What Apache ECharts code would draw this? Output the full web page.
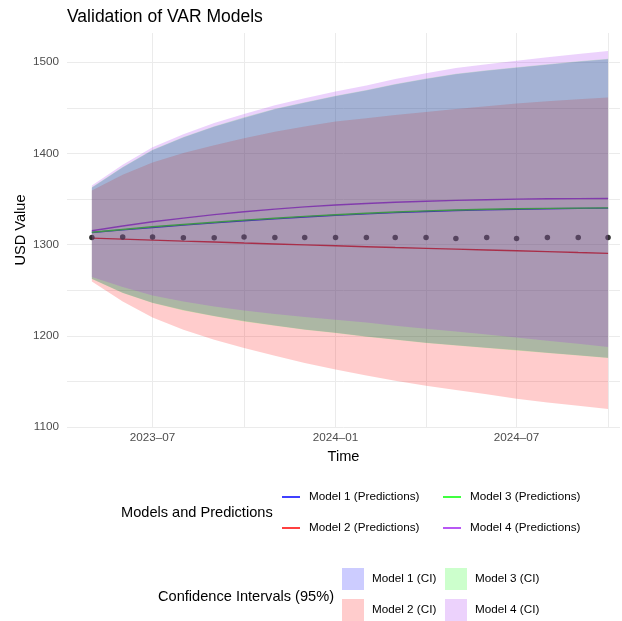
<!DOCTYPE html>
<html>
<head>
<meta charset="utf-8">
<script src="https://cdn.jsdelivr.net/npm/echarts@6/dist/echarts.min.js"></script>
<style>
  html, body { margin: 0; padding: 0; background: #fff; }
  #main { width: 622px; height: 621px; }
</style>
</head>
<body>
<div id="main"></div>
<script>
  // monthly dates of the validation window
  var dates = ['2023-05-01', '2023-06-01', '2023-07-01', '2023-08-01', '2023-09-01', '2023-10-01',
    '2023-11-01', '2023-12-01', '2024-01-01', '2024-02-01', '2024-03-01', '2024-04-01',
    '2024-05-01', '2024-06-01', '2024-07-01', '2024-08-01', '2024-09-01', '2024-10-01'];

  // actual values (black dots)
  var actual = [1307.8, 1308.2, 1308.2, 1307.5, 1307.5, 1308.2, 1307.8, 1307.8, 1307.8,
    1307.8, 1307.8, 1307.8, 1306.8, 1307.8, 1306.8, 1307.8, 1307.8, 1307.8];

  // predictions
  var pred1 = [1313.3, 1316.1, 1318.8, 1321.4, 1323.8, 1326.1, 1328.2, 1330.2, 1332.1,
    1333.7, 1335.1, 1336.3, 1337.3, 1338.1, 1338.8, 1339.3, 1339.7, 1340.0];
  var pred2 = [1307.1, 1306.0, 1304.9, 1303.8, 1302.8, 1301.7, 1300.7, 1299.7, 1298.7,
    1297.7, 1296.8, 1295.9, 1295.0, 1294.1, 1293.2, 1292.3, 1291.3, 1290.4];
  var pred3 = [1313.6, 1316.6, 1319.5, 1322.1, 1324.5, 1326.8, 1328.9, 1330.9, 1332.8,
    1334.4, 1335.8, 1337.0, 1338.0, 1338.7, 1339.3, 1339.7, 1340.0, 1340.3];
  var pred4 = [1315.2, 1320.4, 1325.0, 1329.0, 1332.8, 1336.0, 1338.9, 1341.4, 1343.4,
    1345.0, 1346.4, 1347.6, 1348.5, 1349.2, 1349.8, 1350.2, 1350.4, 1350.5];

  // 95% confidence bounds
  var lower1 = [1262.6, 1247.2, 1236.3, 1228.2, 1221.7, 1216.1, 1211.4, 1207.0, 1203.4,
    1199.3, 1196.0, 1192.4, 1189.7, 1187.0, 1184.3, 1181.5, 1178.7, 1176.0];
  var upper1 = [1362.4, 1384.6, 1403.4, 1417.3, 1429.1, 1438.9, 1448.3, 1455.6, 1462.7,
    1469.0, 1475.6, 1481.6, 1486.7, 1490.5, 1493.9, 1497.1, 1500.4, 1503.3];
  var lower2 = [1259.6, 1237.6, 1220.1, 1206.6, 1195.7, 1186.6, 1178.1, 1170.2, 1163.0,
    1156.6, 1150.8, 1145.3, 1140.7, 1135.8, 1131.0, 1127.0, 1123.3, 1119.7];
  var upper2 = [1359.3, 1376.5, 1390.0, 1400.3, 1409.0, 1416.7, 1423.6, 1429.4, 1434.9,
    1438.4, 1442.0, 1445.4, 1448.6, 1451.7, 1454.6, 1457.1, 1459.3, 1461.2];
  var lower3 = [1262.2, 1246.8, 1235.9, 1227.8, 1221.3, 1215.7, 1211.0, 1206.6, 1203.0,
    1198.9, 1195.6, 1192.0, 1189.3, 1186.6, 1183.9, 1181.1, 1178.3, 1175.6];
  var upper3 = [1363.0, 1385.2, 1404.0, 1417.9, 1429.7, 1439.5, 1448.9, 1456.2, 1463.3,
    1469.6, 1476.2, 1482.2, 1487.3, 1491.1, 1494.5, 1497.7, 1501.0, 1503.9];
  var lower4 = [1264.4, 1253.4, 1244.2, 1237.6, 1232.2, 1227.8, 1223.8, 1220.6, 1217.6,
    1214.5, 1211.0, 1207.7, 1204.8, 1201.5, 1198.2, 1194.6, 1191.3, 1187.7];
  var upper4 = [1364.8, 1387.5, 1406.8, 1421.1, 1433.2, 1443.3, 1452.9, 1460.5, 1467.8,
    1474.5, 1481.5, 1488.0, 1493.5, 1497.8, 1501.6, 1505.3, 1509.0, 1512.4];

  var models = ['Model 1', 'Model 2', 'Model 3', 'Model 4'];
  var preds = [pred1, pred2, pred3, pred4];
  var lowers = [lower1, lower2, lower3, lower4];
  var uppers = [upper1, upper2, upper3, upper4];
  var lineColors = ['#0000FF', '#FF0000', '#00FF00', '#A020F0'];
  var bandColors = ['rgba(0,0,255,0.2)', 'rgba(255,0,0,0.2)', 'rgba(0,255,0,0.2)', 'rgba(160,32,240,0.2)'];

  var font = 'Liberation Sans, Arial, Helvetica, sans-serif';

  function pairs(ys) {
    return dates.map(function (d, i) { return [d, ys[i]]; });
  }

  var series = [];
  series.push({
    name: 'Actual',
    type: 'scatter',
    data: pairs(actual),
    symbolSize: 5.5,
    itemStyle: {color: '#000'},
    z: 1
  });
  preds.forEach(function (p, k) {
    series.push({
      name: models[k] + ' (Predictions)',
      type: 'line',
      data: pairs(p),
      symbol: 'none',
      color: lineColors[k],
      itemStyle: {color: lineColors[k]},
      lineStyle: {width: 1.4, color: lineColors[k]},
      z: 1
    });
  });
  // ribbons: invisible lower line + stacked width
  lowers.forEach(function (lo, k) {
    var up = uppers[k];
    series.push({
      name: models[k] + ' low',
      type: 'line',
      stack: 'ci' + k,
      data: pairs(lo),
      symbol: 'none',
      lineStyle: {opacity: 0},
      silent: true,
      z: 2
    });
    series.push({
      name: models[k] + ' (CI)',
      type: 'line',
      stack: 'ci' + k,
      data: pairs(lo.map(function (v, i) { return up[i] - v; })),
      symbol: 'none',
      color: bandColors[k],
      itemStyle: {color: bandColors[k]},
      lineStyle: {opacity: 0, width: 0},
      areaStyle: {color: bandColors[k], opacity: 1},
      silent: true,
      z: 2
    });
  });

  var lineLegend = {
    orient: 'vertical', top: 491, padding: 0, icon: 'rect',
    itemWidth: 18, itemHeight: 1.5, itemGap: 19, selectedMode: false,
    textStyle: {fontFamily: font, fontSize: 11.7, color: '#000', padding: [0, 0, 0, 4]}
  };
  var ciLegend = {
    orient: 'vertical', top: 568, padding: 0, icon: 'rect',
    itemWidth: 22, itemHeight: 22, itemGap: 9, selectedMode: false,
    textStyle: {fontFamily: font, fontSize: 11.7, color: '#000', padding: [0, 0, 0, 3]}
  };

  var chart = echarts.init(document.getElementById('main'));
  chart.setOption({
    animation: false,
    title: [
      {text: 'Validation of VAR Models', left: 67, top: 8, padding: 0,
        textStyle: {fontFamily: font, fontSize: 17.5, fontWeight: 'normal', color: '#000'}},
      {text: 'Models and Predictions', left: 121, top: 505, padding: 0,
        textStyle: {fontFamily: font, fontSize: 14.6, fontWeight: 'normal', color: '#000'}},
      {text: 'Confidence Intervals (95%)', left: 158, top: 589, padding: 0,
        textStyle: {fontFamily: font, fontSize: 14.6, fontWeight: 'normal', color: '#000'}}
    ],
    legend: [
      Object.assign({data: ['Model 1 (Predictions)', 'Model 2 (Predictions)'], left: 282}, lineLegend),
      Object.assign({data: ['Model 3 (Predictions)', 'Model 4 (Predictions)'], left: 443}, lineLegend),
      Object.assign({data: ['Model 1 (CI)', 'Model 2 (CI)'], left: 342}, ciLegend),
      Object.assign({data: ['Model 3 (CI)', 'Model 4 (CI)'], left: 445}, ciLegend)
    ],
    grid: {left: 67, right: 2, top: 33, bottom: 194, outerBoundsMode: 'none'},
    xAxis: {
      type: 'time',
      min: '2023-04-06',
      max: '2024-10-13',
      splitNumber: 5,
      name: 'Time',
      nameLocation: 'middle',
      nameGap: 22,
      nameTextStyle: {fontFamily: font, fontSize: 14.6, color: '#000'},
      axisLine: {show: false},
      axisTick: {show: false},
      axisLabel: {
        fontFamily: font, fontSize: 11.7, color: '#4d4d4d', margin: 5,
        showMinLabel: false, showMaxLabel: false,
        formatter: function (v) {
          var d = new Date(v);
          var m = d.getMonth();
          if (m % 6 !== 0) return '';
          return d.getFullYear() + '\u2013' + (m < 9 ? '0' : '') + (m + 1);
        }
      },
      splitLine: {show: true, showMinLine: false, showMaxLine: false, lineStyle: {color: '#ebebeb', width: 1}}
    },
    yAxis: {
      type: 'value',
      min: 1100,
      max: 1532,
      interval: 50,
      name: 'USD Value',
      nameLocation: 'middle',
      nameGap: 39,
      nameMoveOverlap: false,
      nameTextStyle: {fontFamily: font, fontSize: 14.6, color: '#000'},
      axisLine: {show: false},
      axisTick: {show: false},
      axisLabel: {
        fontFamily: font, fontSize: 11.7, color: '#4d4d4d', margin: 8,
        showMaxLabel: false,
        formatter: function (v) { return v % 100 === 0 ? String(v) : ''; }
      },
      splitLine: {show: true, showMaxLine: false, lineStyle: {color: '#ebebeb', width: 1}}
    },
    series: series
  });
</script>
</body>
</html>
